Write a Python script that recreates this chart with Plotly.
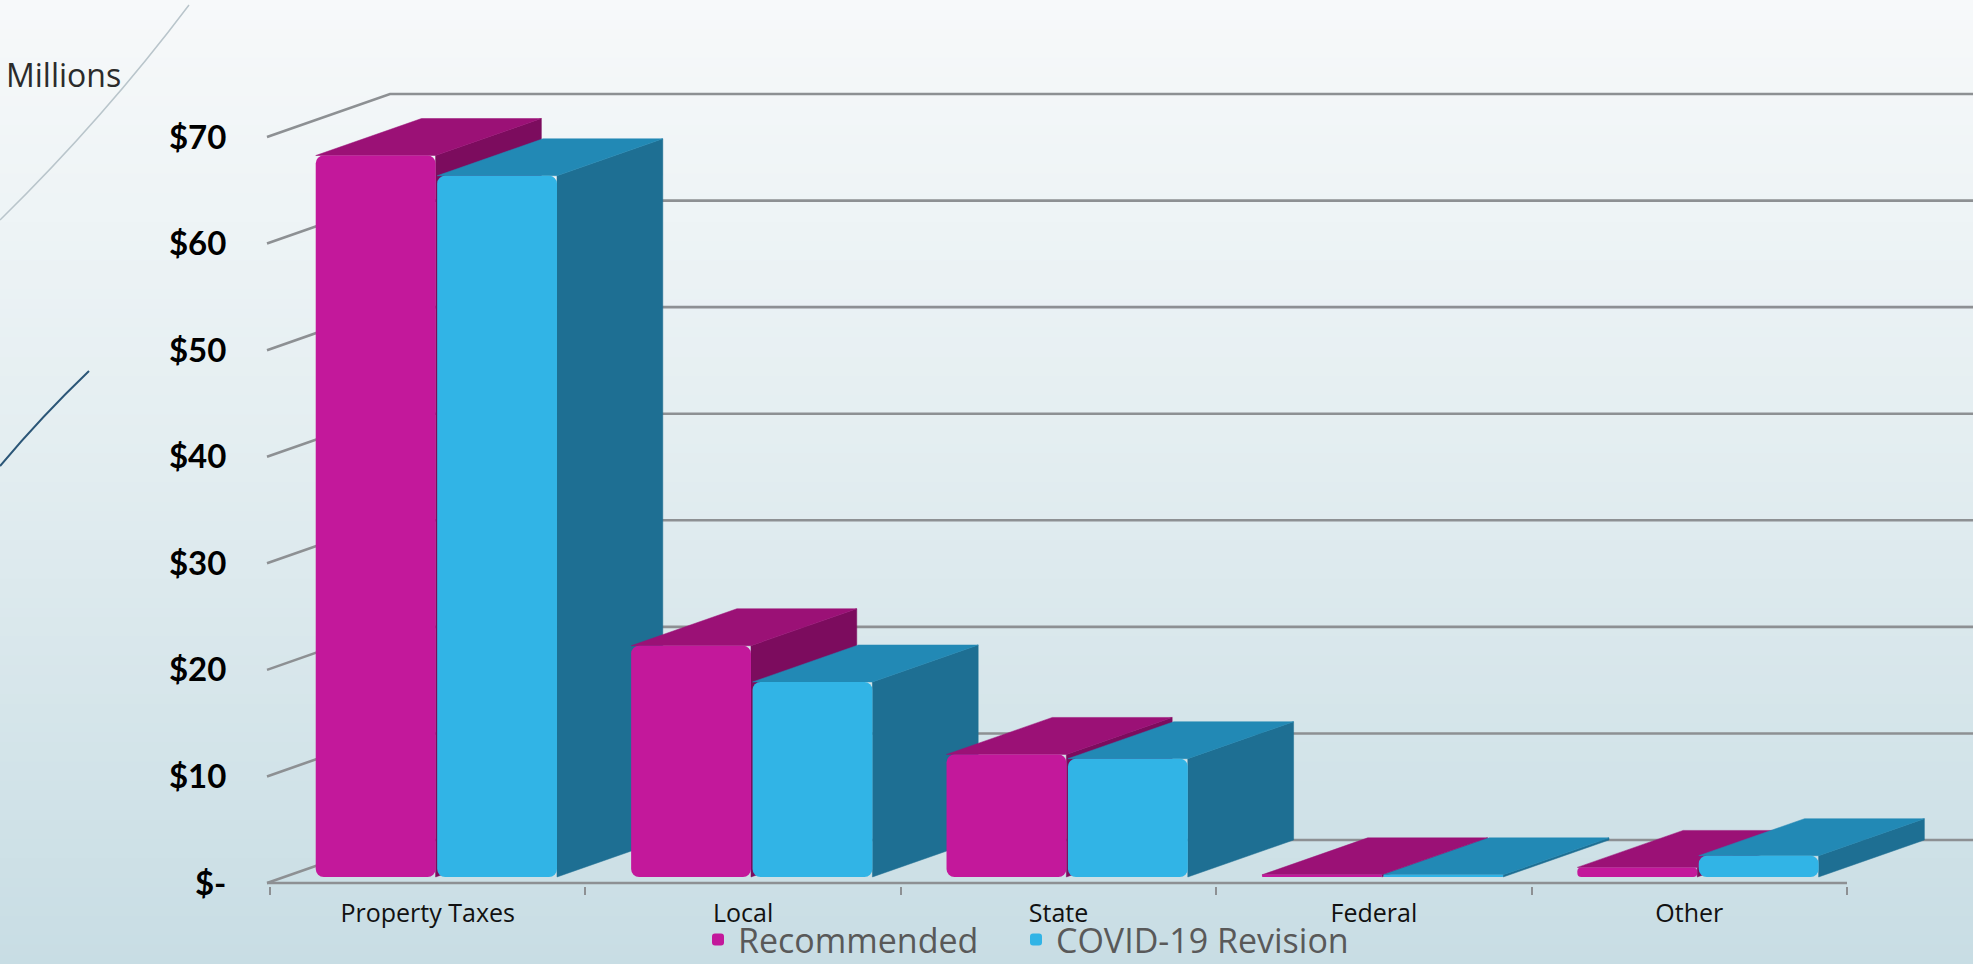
import plotly.graph_objects as go

# ---------------- data ----------------
categories = ["Property Taxes", "Local", "State", "Federal", "Other"]
recommended = [67.7, 21.7, 11.5, 0.2, 0.9]
covid_revision = [65.8, 18.3, 11.1, 0.2, 2.0]
series_names = ["Recommended", "COVID-19 Revision"]
y_tickvals = [0, 10, 20, 30, 40, 50, 60, 70]
y_ticktext = ["$-", "$10", "$20", "$30", "$40", "$50", "$60", "$70"]
y_unit_label = "Millions"

# ---------------- geometry / style ----------------
W, H = 1973, 964
ML, MB = 240, 78
PLOT_BOTTOM = H - MB
X0PIX, CAT_PX = 270.0, 315.4
Y0PIX, UNIT_PX = 883.0, 10.657

x_range = [(ML - X0PIX) / CAT_PX, (W - X0PIX) / CAT_PX]
y_range = [-(PLOT_BOTTOM - Y0PIX) / UNIT_PX, Y0PIX / UNIT_PX]

DX = 123.0 / CAT_PX          # depth offset of the back wall (x units)
DY = 43.0 / UNIT_PX          # depth offset of the back wall (y units)
FRONT_FRAC, DEPTH_FRAC = 0.14, 0.86
BASE = FRONT_FRAC * DY
BDX, BDY = DEPTH_FRAC * DX, DEPTH_FRAC * DY
BAR_W = 0.38
OFFSETS = [-0.355, 0.03]

front_cols = ["#C3189B", "#31B4E6"]
top_cols = ["#9B1176", "#2289B5"]
side_cols = ["#7C0C5E", "#1E6F93"]
GRID = "#8D9093"


def px_paper_x(p):
    return (p - ML) / (W - ML)


def px_paper_y(p):
    return (PLOT_BOTTOM - p) / PLOT_BOTTOM


fig = go.Figure()

# back-wall gridlines + slanted front connectors (computed from tick values)
x_front = -3.0 / CAT_PX
for v in y_tickvals:
    fig.add_trace(go.Scatter(
        x=[x_front, x_front + DX, x_range[1] + 0.2],
        y=[v, v + DY, v + DY],
        mode="lines", line=dict(color=GRID, width=2.6),
        hoverinfo="skip", showlegend=False, xaxis="x", yaxis="y"))

# front baseline
fig.add_trace(go.Scatter(
    x=[x_front, len(categories)], y=[0, 0],
    mode="lines", line=dict(color=GRID, width=2.6),
    hoverinfo="skip", showlegend=False, xaxis="x", yaxis="y"))

# side & top faces (drawn left to right for correct overlap)
series = [recommended, covid_revision]
for i in range(len(categories)):
    for s, vals in enumerate(series):
        v = vals[i]
        x0 = i + 0.5 + OFFSETS[s]
        x1 = x0 + BAR_W
        # side face
        fig.add_trace(go.Scatter(
            x=[x1, x1, x1 + BDX, x1 + BDX, x1],
            y=[BASE, BASE + v, BASE + v + BDY, BASE + BDY, BASE],
            mode="lines", fill="toself", fillcolor=side_cols[s],
            line=dict(width=0.5, color=side_cols[s]),
            hoverinfo="skip", showlegend=False, xaxis="x", yaxis="y"))
        # top face
        fig.add_trace(go.Scatter(
            x=[x0, x1, x1 + BDX, x0 + BDX, x0],
            y=[BASE + v, BASE + v, BASE + v + BDY, BASE + v + BDY, BASE + v],
            mode="lines", fill="toself", fillcolor=top_cols[s],
            line=dict(width=0.5, color=top_cols[s]),
            hoverinfo="skip", showlegend=False, xaxis="x", yaxis="y"))

# front faces as real bars on an overlaying axis pair (drawn on top)
xc = [i + 0.5 for i in range(len(categories))]
legend_ids = ["legend", "legend2"]
for s, vals in enumerate(series):
    fig.add_trace(go.Bar(
        x=xc, y=vals, base=BASE, width=BAR_W, offset=OFFSETS[s],
        name=series_names[s], xaxis="x2", yaxis="y2", legend=legend_ids[s],
        marker=dict(color=front_cols[s], line=dict(width=0), cornerradius=8),
        hovertext=categories, hoverinfo="text+y"))

# ---------------- background gradient ----------------
stops = [(0.0, (247, 249, 250)), (0.45, (228, 238, 241)), (1.0, (200, 221, 228))]


def col_at(t):
    for (t0, c0), (t1, c1) in zip(stops[:-1], stops[1:]):
        if t <= t1:
            f = (t - t0) / (t1 - t0)
            return "rgb(%d,%d,%d)" % tuple(round(a + (b - a) * f) for a, b in zip(c0, c1))
    return "rgb(%d,%d,%d)" % stops[-1][1]


shapes = []
NB = 100
for k in range(NB):
    top = H * k / NB
    bot = H * (k + 1) / NB + 1
    shapes.append(dict(type="rect", xref="paper", yref="paper",
                       x0=px_paper_x(0), x1=px_paper_x(W),
                       y0=px_paper_y(bot), y1=px_paper_y(top),
                       fillcolor=col_at((k + 0.5) / NB), line=dict(width=0),
                       layer="below"))

# decorative slide lines
shapes.append(dict(type="path", xref="paper", yref="paper", layer="below",
                   path="M %f %f Q %f %f %f %f" % (
                       px_paper_x(0), px_paper_y(220),
                       px_paper_x(104), px_paper_y(118),
                       px_paper_x(189), px_paper_y(5)),
                   line=dict(color="#B9C5CB", width=1.5)))
shapes.append(dict(type="path", xref="paper", yref="paper", layer="below",
                   path="M %f %f Q %f %f %f %f" % (
                       px_paper_x(0), px_paper_y(466),
                       px_paper_x(42), px_paper_y(416),
                       px_paper_x(89), px_paper_y(371)),
                   line=dict(color="#2B5677", width=2)))

legend_common = dict(orientation="h", xanchor="left", yanchor="middle",
                     y=px_paper_y(940),
                     font=dict(family="Open Sans", size=34, color="#595959"),
                     bgcolor="rgba(0,0,0,0)", borderwidth=0)

fig.update_layout(
    width=W, height=H,
    margin=dict(l=ML, r=0, t=0, b=MB, pad=0, autoexpand=False),
    paper_bgcolor="rgb(200,221,228)", plot_bgcolor="rgba(0,0,0,0)",
    barmode="overlay",
    shapes=shapes,
    showlegend=True,
    legend=dict(x=px_paper_x(698), **legend_common),
    legend2=dict(x=px_paper_x(1016), **legend_common),
    xaxis=dict(range=x_range, tickvals=xc, ticktext=categories,
               ticks="outside", ticklen=5, tickcolor="rgba(0,0,0,0)",
               showgrid=False, zeroline=False, showline=False,
               tickfont=dict(family="Open Sans", size=25, color="#111111"),
               minor=dict(tickvals=list(range(len(categories) + 1)), ticks="outside",
                          ticklen=8, tickcolor=GRID, tickwidth=2, showgrid=False),
               fixedrange=True),
    yaxis=dict(range=y_range, tickvals=y_tickvals, ticktext=y_ticktext,
               ticks="outside", ticklen=6, tickcolor="rgba(0,0,0,0)",
               showgrid=False, zeroline=False, showline=False,
               tickfont=dict(family="Lato", size=33, color="#000000", weight="bold"),
               fixedrange=True),
    xaxis2=dict(range=x_range, overlaying="x", visible=False, fixedrange=True),
    yaxis2=dict(range=y_range, overlaying="y", visible=False, fixedrange=True),
    annotations=[dict(text=y_unit_label, xref="paper", yref="paper",
                      x=px_paper_x(4), y=px_paper_y(75), xanchor="left", yanchor="middle",
                      showarrow=False,
                      font=dict(family="Open Sans", size=32, color="#2b2b2b"))],
)

fig.write_html("out.html")
